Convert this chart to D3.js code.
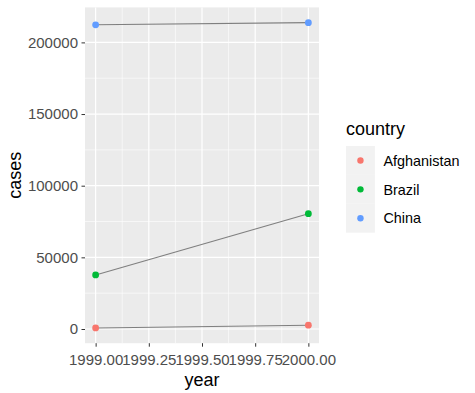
<!DOCTYPE html>
<html>
<head>
<meta charset="utf-8">
<script src="https://cdn.jsdelivr.net/npm/d3@7"></script>
<style>
  body { margin: 0; background: #fff; }
  text { font-family: Arial, "Liberation Sans", sans-serif; }
</style>
</head>
<body>
<div id="chart"></div>
<script>
const countries = ["Afghanistan", "Brazil", "China"];
const years = [1999, 2000];
const afghanistanCases = [745, 2666];
const brazilCases = [37737, 80488];
const chinaCases = [212258, 213766];
const colours = ["#F8766D", "#00BA38", "#619CFF"];
const xTicks = [1999, 1999.25, 1999.5, 1999.75, 2000];
const yTicks = [0, 50000, 100000, 150000, 200000];

const casesByCountry = [afghanistanCases, brazilCases, chinaCases];
const series = countries.map((c, i) => ({
    country: c,
    values: years.map((yr, j) => ({ year: yr, cases: casesByCountry[i][j] }))
}));

const W = 475, H = 393;
const panel = { left: 85, right: 319, top: 7.4, bottom: 343.2 };

const svg = d3.select("#chart").append("svg")
    .attr("width", W)
    .attr("height", H);

const x = d3.scaleLinear()
    .domain([1998.95, 2000.05])
    .range([panel.left, panel.right]);

const allCases = casesByCountry.flat();
const yMin = d3.min(allCases), yMax = d3.max(allCases);
const pad = (yMax - yMin) * 0.05;
const y = d3.scaleLinear()
    .domain([yMin - pad, yMax + pad])
    .range([panel.bottom, panel.top]);

// panel background
svg.append("rect")
    .attr("x", panel.left)
    .attr("y", panel.top)
    .attr("width", panel.right - panel.left)
    .attr("height", panel.bottom - panel.top)
    .attr("fill", "#EBEBEB");

// grid lines, minor first
const xMinor = [1999.125, 1999.375, 1999.625, 1999.875];
const yMinor = [25000, 75000, 125000, 175000];
const grid = svg.append("g");
grid.selectAll(".xminor").data(xMinor).join("line")
    .attr("x1", (d) => x(d)).attr("x2", (d) => x(d))
    .attr("y1", panel.top).attr("y2", panel.bottom)
    .attr("stroke", "#fff").attr("stroke-width", 0.6);
grid.selectAll(".yminor").data(yMinor).join("line")
    .attr("y1", (d) => y(d)).attr("y2", (d) => y(d))
    .attr("x1", panel.left).attr("x2", panel.right)
    .attr("stroke", "#fff").attr("stroke-width", 0.6);
grid.selectAll(".xmajor").data(xTicks).join("line")
    .attr("x1", (d) => x(d)).attr("x2", (d) => x(d))
    .attr("y1", panel.top).attr("y2", panel.bottom)
    .attr("stroke", "#fff").attr("stroke-width", 1.2);
grid.selectAll(".ymajor").data(yTicks).join("line")
    .attr("y1", (d) => y(d)).attr("y2", (d) => y(d))
    .attr("x1", panel.left).attr("x2", panel.right)
    .attr("stroke", "#fff").attr("stroke-width", 1.2);

// axes
const xAxis = svg.append("g")
    .attr("transform", `translate(0, ${panel.bottom})`)
    .call(d3.axisBottom(x).tickValues(xTicks).tickFormat(d3.format(".2f")).tickSize(3.5).tickPadding(7.5));
const yAxis = svg.append("g")
    .attr("transform", `translate(${panel.left}, 0)`)
    .call(d3.axisLeft(y).tickValues(yTicks).tickFormat(d3.format("d")).tickSize(3.5).tickPadding(3.5));
[xAxis, yAxis].forEach((a) => {
    a.select(".domain").remove();
    a.selectAll(".tick line").attr("stroke", "#333333").attr("stroke-width", 1);
    a.selectAll(".tick text")
        .attr("fill", "#4D4D4D")
        .style("font-size", "15px")
        .style("font-family", "Arial, 'Liberation Sans', sans-serif");
});

// lines
const line = d3.line()
    .x((d) => x(d.year))
    .y((d) => y(d.cases));
svg.append("g").selectAll("path").data(series).join("path")
    .attr("d", (d) => line(d.values))
    .attr("fill", "none")
    .attr("stroke", "#7F7F7F")
    .attr("stroke-width", 1.1);

// points
svg.append("g").selectAll("g").data(series).join("g")
    .attr("fill", (d, i) => colours[i])
    .selectAll("circle").data((d) => d.values).join("circle")
    .attr("cx", (d) => x(d.year))
    .attr("cy", (d) => y(d.cases))
    .attr("r", 3.4);

// axis titles
svg.append("text")
    .attr("x", (panel.left + panel.right) / 2)
    .attr("y", 386)
    .attr("text-anchor", "middle")
    .style("font-size", "18px")
    .attr("fill", "#000")
    .text("year");
svg.append("text")
    .attr("transform", `translate(21, ${(panel.top + panel.bottom) / 2}) rotate(-90)`)
    .attr("text-anchor", "middle")
    .style("font-size", "18px")
    .attr("fill", "#000")
    .text("cases");

// legend
const legend = svg.append("g").attr("transform", "translate(346, 0)");
legend.append("text")
    .attr("x", 0)
    .attr("y", 135)
    .style("font-size", "18px")
    .attr("fill", "#000")
    .text("country");
const key = 28.9;
const item = legend.selectAll(".item").data(countries).join("g")
    .attr("transform", (d, i) => `translate(0, ${146 + i * key})`);
item.append("rect")
    .attr("width", key).attr("height", key)
    .attr("fill", "#F2F2F2");
item.append("circle")
    .attr("cx", key / 2).attr("cy", key / 2)
    .attr("r", 3.2)
    .attr("fill", (d, i) => colours[i]);
item.append("text")
    .attr("x", key + 8.5)
    .attr("y", key / 2 + 5.2)
    .style("font-size", "14.4px")
    .attr("fill", "#000")
    .text((d) => d);
</script>
</body>
</html>
